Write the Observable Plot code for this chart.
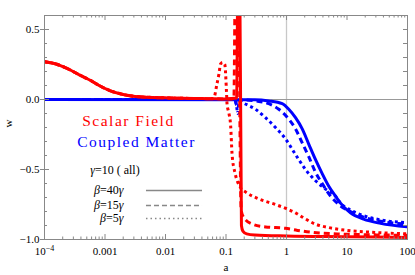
<!DOCTYPE html>
<html><head><meta charset="utf-8">
<script src="https://cdn.jsdelivr.net/npm/d3@7"></script>
<script src="https://cdn.jsdelivr.net/npm/@observablehq/plot@0.6"></script>
<style>body{margin:0;background:#fff} svg text{font-family:"Liberation Serif","DejaVu Serif","Times New Roman",serif !important}</style>
</head><body><div id="chart"></div>
<script>
// ---- data ----
const earlyA = [0.0001, 0.00015, 0.00024, 0.0004, 0.00058, 0.0008, 0.0012, 0.002, 0.0029, 0.005, 0.01, 0.03, 0.05];
const earlyW = [0.27, 0.255, 0.22, 0.17, 0.136, 0.1, 0.064, 0.036, 0.024, 0.016, 0.012, 0.007, 0.006];

const scalarSolidA = [...earlyA, 0.1, 0.15, 0.158, 0.168, 0.18, 0.19, 0.22, 0.3, 1, 10, 100];
const scalarSolidW = [...earlyW, 0.004, 0.01, 1.0, 1.0, -0.9, -0.94, -0.96, -0.968, -0.975, -0.98, -0.985];

const scalarDashedA = [...earlyA, 0.1, 0.135, 0.1435, 0.158, 0.178, 0.1945, 0.274, 0.45, 0.96, 1.52, 2.79, 7.0, 30, 100];
const scalarDashedW = [...earlyW, 0.004, 0.006, 1.0, 1.0, -0.79, -0.84, -0.89, -0.91, -0.92, -0.935, -0.95, -0.96, -0.967, -0.97];

const scalarDottedA = [...earlyA, 0.0625, 0.0708, 0.0763, 0.0815, 0.088, 0.0955, 0.102, 0.104, 0.112, 0.119, 0.126, 0.14, 0.153, 0.174, 0.21, 0.348, 0.658, 1.0, 1.41, 2.0, 3.0, 5.0, 10, 30, 100];
const scalarDottedW = [...earlyW, 0.008, 0.11, 0.18, 0.255, 0.265, 0.25, 0.05, -0.03, -0.1, -0.18, -0.39, -0.52, -0.58, -0.63, -0.66, -0.71, -0.75, -0.78, -0.81, -0.85, -0.89, -0.915, -0.935, -0.95, -0.96];

const matterSolidA = [0.0001, 0.3, 0.509, 0.849, 1.09, 1.41, 1.82, 2.34, 3.02, 3.89, 5.0, 6.45, 7.81, 11.4, 18.8, 35.8, 100];
const matterSolidW = [0, -0.002, -0.01, -0.03, -0.07, -0.13, -0.21, -0.32, -0.43, -0.53, -0.62, -0.69, -0.74, -0.81, -0.855, -0.885, -0.91];

const matterDashedA = [0.0001, 0.14, 0.15, 0.158, 0.2, 0.308, 0.509, 0.746, 1.09, 1.41, 1.82, 2.34, 3.02, 3.89, 5.34, 7.81, 11.4, 18.8, 35.8, 100];
const matterDashedW = [0, 0, -0.04, -0.005, -0.003, -0.01, -0.03, -0.07, -0.14, -0.21, -0.31, -0.41, -0.52, -0.60, -0.69, -0.76, -0.80, -0.84, -0.87, -0.89];

const matterDottedA = [0.0001, 0.14, 0.15, 0.156, 0.162, 0.17, 0.185, 0.308, 0.45, 0.658, 0.962, 1.24, 1.60, 2.06, 3.02, 4.42, 6.45, 7.81, 11.4, 18.8, 35.8, 100];
const matterDottedW = [0, 0, -0.05, -0.1, -0.03, -0.01, -0.02, -0.07, -0.13, -0.2, -0.28, -0.355, -0.43, -0.5, -0.58, -0.64, -0.69, -0.74, -0.79, -0.83, -0.86, -0.88];

// ---- ticks & labels ----
const xMajorTicks = [1e-4, 1e-3, 1e-2, 0.1, 1, 10, 100];
const xMajorLabels = ["10⁻⁴", "0.001", "0.01", "0.1", "1", "10", "100"];
const xMinorTicks = d3.range(-4, 2).flatMap(e => d3.range(2, 10).map(m => m * Math.pow(10, e)));
const yMajorTicks = [-1, -0.5, 0, 0.5];
const yMajorLabels = ["−1.0", "−0.5", "0.0", "0.5"];
const yMinorTicks = d3.range(-10, 7).map(i => i / 10);

// legend / annotations
const betaLabels = ["β=40γ", "β=15γ", "β=5γ"];
const betaY = [-0.65, -0.757, -0.85];
const betaDash = [null, "5,3", "1.5,3"];

const rows = (A, W) => A.map((a, i) => ({a, w: W[i]}));
const RED = "#ff0000", BLUE = "#0000ff", GRAY = "#888";
const FONT = "'Liberation Serif', 'DejaVu Serif', serif";
const W0 = 415, H0 = 275, ML = 44, MR = 8, MT = 15, MB = 36;
const FW = W0 - ML - MR, FH = H0 - MT - MB;

const DASH = "6,4", DOT = "3,3.2";
const lineOpts = (stroke, dash) => ({x: "a", y: "w", stroke, strokeWidth: 3, strokeDasharray: dash ?? undefined,
  strokeLinecap: "butt", strokeLinejoin: "round", curve: "monotone-x", clip: true});
const txt = (o) => ({fontFamily: FONT, ...o});

const chart = Plot.plot({
  width: W0, height: H0,
  marginLeft: ML, marginRight: MR, marginTop: MT, marginBottom: MB,
  style: {fontFamily: FONT, fontSize: "11px", background: "#fff", color: "#000"},
  x: {type: "log", domain: [1e-4, 100], axis: null},
  y: {domain: [-1, 0.6], axis: null},
  marks: [
    Plot.ruleX([1], {stroke: "#c8c8c8", strokeWidth: 1.3}),
    Plot.ruleY([0], {stroke: "#999", strokeWidth: 1}),
    // coupled matter
    Plot.line(rows(matterSolidA, matterSolidW), lineOpts(BLUE)),
    Plot.line(rows(matterDashedA, matterDashedW), lineOpts(BLUE, DASH)),
    Plot.line(rows(matterDottedA, matterDottedW), lineOpts(BLUE, DOT)),
    // scalar field
    Plot.line(rows(scalarSolidA, scalarSolidW), lineOpts(RED)),
    Plot.line(rows(scalarDashedA, scalarDashedW), lineOpts(RED, DASH)),
    Plot.line(rows(scalarDottedA, scalarDottedW), lineOpts(RED, DOT)),
    // frame & ticks
    Plot.frame({stroke: GRAY}),
    Plot.tickX(xMajorTicks, {x: d => d, insetTop: FH - 5, stroke: GRAY}),
    Plot.tickX(xMinorTicks, {x: d => d, insetTop: FH - 2.5, stroke: GRAY}),
    Plot.tickX(xMajorTicks, {x: d => d, insetBottom: FH - 5, stroke: GRAY}),
    Plot.tickX(xMinorTicks, {x: d => d, insetBottom: FH - 2.5, stroke: GRAY}),
    Plot.tickY(yMinorTicks, {y: d => d, insetRight: FW - 3, stroke: GRAY}),
    Plot.tickY(yMajorTicks, {y: d => d, insetRight: FW - 5, stroke: GRAY}),
    Plot.tickY(yMinorTicks, {y: d => d, insetLeft: FW - 4, stroke: GRAY}),
    Plot.axisY(yMajorTicks, {anchor: "left", tickSize: 4, tickPadding: 1, tickFormat: (d, i) => yMajorLabels[i], label: null, stroke: GRAY, fontFamily: FONT, fontSize: 11}),
    Plot.text(xMajorTicks, txt({x: d => d, text: (d, i) => xMajorLabels[i], frameAnchor: "bottom", dy: 12, lineAnchor: "middle", fontSize: 11})),
    Plot.text(["a"], txt({frameAnchor: "bottom", dy: 31, fontSize: 11})),
    Plot.text(["w"], txt({frameAnchor: "left", dx: -36, rotate: -90, fontSize: 11})),
    // annotations
    Plot.text(["Scalar Field"], txt({x: 0.00244, y: -0.157, fill: RED, fontSize: 15.5})),
    Plot.text(["Coupled Matter"], txt({x: 0.00332, y: -0.307, fill: BLUE, fontSize: 15.5})),
    Plot.text(["γ=10 ( all)"], txt({x: 0.00146, y: -0.507, fontSize: 12})),
    Plot.text(betaLabels, txt({x: 0.00202, y: (d, i) => betaY[i], text: d => d, textAnchor: "end", fontSize: 12})),
    ...betaLabels.map((b, i) => Plot.ruleY([betaY[i]], {x1: 0.00485, x2: 0.0409, stroke: GRAY, strokeWidth: 1.5, strokeDasharray: betaDash[i] ?? undefined}))
  ]
});

// post-processing: italic greek letters, superscript exponent, letter spacing
chart.querySelectorAll("text").forEach(t => {
  const s = t.textContent;
  if (s === "10⁻⁴") {
    t.textContent = "10";
    const sp = document.createElementNS("http://www.w3.org/2000/svg", "tspan");
    sp.setAttribute("dy", "-4"); sp.setAttribute("font-size", "8"); sp.textContent = "−4";
    t.appendChild(sp);
  } else if (/[βγ]/.test(s) && !t.querySelector("tspan")) {
    t.textContent = "";
    for (const ch of s) {
      const sp = document.createElementNS("http://www.w3.org/2000/svg", "tspan");
      if (/[βγ]/.test(ch)) sp.setAttribute("font-style", "italic");
      sp.textContent = ch;
      t.appendChild(sp);
    }
  }
  if (s === "Scalar Field" || s === "Coupled Matter") t.setAttribute("letter-spacing", "1.5");
});
document.getElementById("chart").appendChild(chart);
</script>
</body></html>
